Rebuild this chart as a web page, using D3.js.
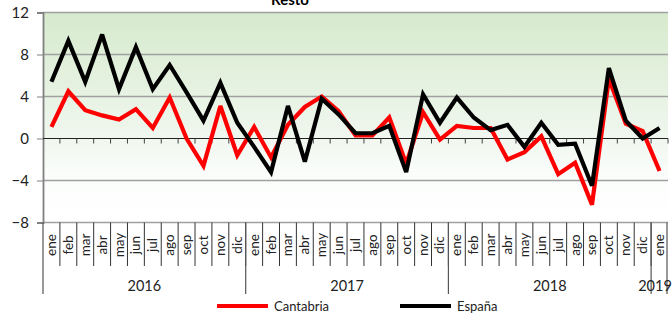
<!DOCTYPE html>
<html><head><meta charset="utf-8">
<script src="https://cdn.jsdelivr.net/npm/d3@7"></script>
<style>body{margin:0;background:#fff}svg{display:block;font-family:"Century Gothic","URW Gothic",Lato,sans-serif}</style>
</head><body><svg id="c" width="672" height="314"></svg>
<script>
const months = ["ene","feb","mar","abr","may","jun","jul","ago","sep","oct","nov","dic",
"ene","feb","mar","abr","may","jun","jul","ago","sep","oct","nov","dic",
"ene","feb","mar","abr","may","jun","jul","ago","sep","oct","nov","dic","ene"];
const years = [{label:"2016",start:0,end:12},{label:"2017",start:12,end:24},{label:"2018",start:24,end:36},{label:"2019",start:36,end:37}];
const cantabria = [1.1,4.5,2.7,2.2,1.8,2.8,1.0,3.9,0.0,-2.6,3.1,-1.6,
1.1,-1.8,1.3,3.0,4.0,2.6,0.3,0.3,2.0,-2.4,2.5,-0.1,
1.2,1.0,1.0,-2.0,-1.3,0.2,-3.4,-2.3,-6.3,5.7,1.4,0.7,-3.1];
const espana = [5.4,9.3,5.4,9.9,4.7,8.7,4.7,7.0,4.4,1.7,5.3,1.5,
-0.8,-3.2,3.1,-2.2,3.8,2.3,0.5,0.5,1.2,-3.2,4.2,1.5,
3.9,2.0,0.8,1.3,-0.8,1.5,-0.6,-0.5,-4.5,6.7,1.7,0.0,1.0];
const yTicks = [12,8,4,0,-4,-8];
const title = "Resto";
const seriesNames = ["Cantabria","España"];
const colors = ["#ff0000","#000000"];

const svg = d3.select("#c");
const L=43, R=668, T=12.5, B=222.5;
const x = d3.scaleBand().domain(d3.range(months.length)).range([L,R]).paddingInner(0).paddingOuter(0);
const y = d3.scaleLinear().domain([-8,12]).range([B,T]);

const defs = svg.append("defs");
const g = defs.append("linearGradient").attr("id","bg").attr("x1",0).attr("y1",0).attr("x2",0).attr("y2",1);
g.append("stop").attr("offset","0%").attr("stop-color","#d6eacd");
g.append("stop").attr("offset","55%").attr("stop-color","#eef6ec");
g.append("stop").attr("offset","78%").attr("stop-color","#fbfdfb");
g.append("stop").attr("offset","100%").attr("stop-color","#ffffff");
svg.append("rect").attr("x",L).attr("y",T).attr("width",R-L).attr("height",B-T).attr("fill","url(#bg)");

// title (cut off at top, as in the reference)
svg.append("text").attr("x",290).attr("y",5).attr("text-anchor","middle")
  .attr("font-weight","bold").attr("font-size",15).attr("fill","#000").text(title);

// grid
svg.append("g").selectAll("line").data(yTicks.filter(d=>d!==0)).join("line")
  .attr("x1",L).attr("x2",R).attr("y1",d=>y(d)).attr("y2",d=>y(d))
  .attr("stroke","#a0a0a0").attr("stroke-width",1.5);

// y axis
const ya = svg.append("g").attr("transform",`translate(${L},0)`)
  .call(d3.axisLeft(y).tickValues(yTicks).tickSize(6).tickPadding(8).tickFormat(d3.format("d")));
ya.select(".domain").attr("stroke","#808080").attr("stroke-width",1.8);
ya.selectAll(".tick line").attr("stroke","#808080");
ya.selectAll("text").attr("font-size",15).attr("fill","#222").attr("font-family",'"Century Gothic","URW Gothic",Lato,sans-serif');

// zero line with ticks
const bounds = d3.range(months.length+1).map(i=> i<months.length ? x(i) : R);
svg.append("line").attr("x1",L).attr("x2",R).attr("y1",y(0)).attr("y2",y(0)).attr("stroke","#222").attr("stroke-width",1.2);
svg.append("g").selectAll("line").data(bounds.slice(1)).join("line")
  .attr("x1",d=>d).attr("x2",d=>d).attr("y1",y(0)).attr("y2",y(0)+5).attr("stroke","#444");

// bottom category axis
svg.append("g").selectAll("line").data(bounds.slice(1,-1)).join("line")
  .attr("x1",d=>d).attr("x2",d=>d).attr("y1",B).attr("y2",266).attr("stroke","#333").attr("stroke-width",1);
const ybounds = years.map(d=>d.start).concat([months.length]);
svg.append("g").selectAll("line").data(ybounds).join("line")
  .attr("x1",d=>d<months.length?x(d):R-1).attr("x2",d=>d<months.length?x(d):R-1).attr("y1",B).attr("y2",294).attr("stroke","#555").attr("stroke-width",1.2);

svg.append("g").selectAll("text").data(months).join("text")
  .attr("transform",(d,i)=>`translate(${x(i)+x.bandwidth()/2+4.5},245) rotate(-90)`)
  .attr("text-anchor","middle").attr("font-size",13.5).attr("fill","#222").text(d=>d);

svg.append("g").selectAll("text").data(years).join("text")
  .attr("x",d=>{const a=x(d.start), b=d.end<months.length?x(d.end):R; return Math.min((a+b)/2, 655);})
  .attr("y",291).attr("text-anchor","middle").attr("font-size",14.5).attr("fill","#222").text(d=>d.label);

// lines
const line = d3.line().x((d,i)=>x(i)+x.bandwidth()/2).y(d=>y(d)).curve(d3.curveLinear);
[cantabria, espana].forEach((s,k)=>{
  svg.append("path").datum(s).attr("d",line).attr("fill","none")
    .attr("stroke",colors[k]).attr("stroke-width",4.2).attr("stroke-linejoin","miter").attr("stroke-miterlimit",3);
});

// legend
const legX = [217,400];
seriesNames.forEach((n,k)=>{
  svg.append("line").attr("x1",legX[k]).attr("x2",legX[k]+51).attr("y1",306).attr("y2",306)
    .attr("stroke",colors[k]).attr("stroke-width",4);
  svg.append("text").attr("x",legX[k]+57).attr("y",311).attr("font-size",13).attr("fill","#222").text(n);
});
</script></body></html>
